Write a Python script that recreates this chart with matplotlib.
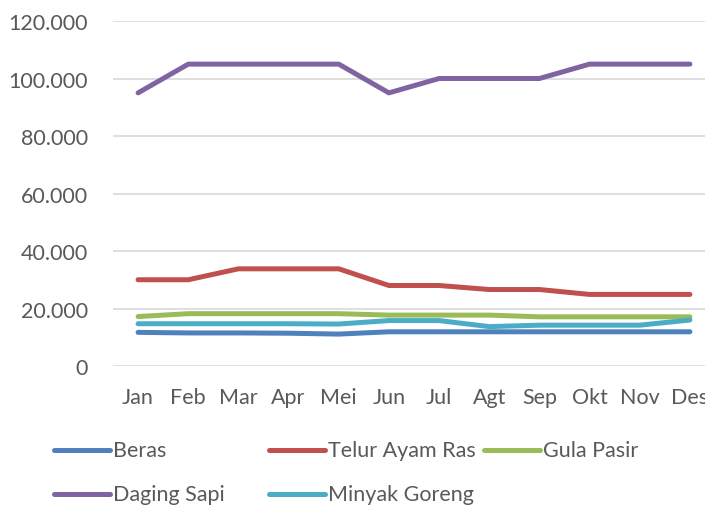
import matplotlib
matplotlib.use("Agg")
import matplotlib.pyplot as plt
from matplotlib.lines import Line2D
from matplotlib.ticker import FuncFormatter

plt.rcParams["font.family"] = ["Lato", "DejaVu Sans"]

months = ["Jan", "Feb", "Mar", "Apr", "Mei", "Jun", "Jul", "Agt", "Sep", "Okt", "Nov", "Des"]
beras = [11700, 11500, 11500, 11400, 11100, 11900, 11900, 11900, 11900, 11900, 11900, 11900]
telur = [30000, 30000, 33800, 33800, 33800, 28000, 28000, 26600, 26600, 24900, 24900, 24900]
gula = [17200, 18200, 18200, 18200, 18200, 17700, 17700, 17700, 17100, 17100, 17100, 17100]
daging = [95000, 105000, 105000, 105000, 105000, 95000, 100000, 100000, 100000, 105000, 105000, 105000]
minyak = [14700, 14700, 14700, 14700, 14600, 15800, 15800, 13700, 14200, 14200, 14200, 16000]

series = [("Beras", beras, "#4F81BD"),
          ("Telur Ayam Ras", telur, "#C0504D"),
          ("Gula Pasir", gula, "#9BBB59"),
          ("Daging Sapi", daging, "#8064A2"),
          ("Minyak Goreng", minyak, "#4BACC6")]

GRID = "#D9D9D9"; TXT = "#595959"
W, H = 705, 506
FS = 15.5

fig = plt.figure(figsize=(W / 100, H / 100), dpi=100)
ax = fig.add_axes([113 / W, 1 - 367 / H, (715 - 113) / W, (367 - 22) / H])

x = list(range(len(months)))
for name, vals, col in series:
    ax.plot(x, vals, color=col, lw=3.6, solid_capstyle="round", solid_joinstyle="round")

ax.set_xlim(-0.5, len(months) - 0.5)
ax.set_ylim(0, 120000)
ax.set_yticks(range(0, 120001, 20000))
ax.yaxis.set_major_formatter(FuncFormatter(lambda v, p: f"{v:,.0f}".replace(",", ".")))
ax.set_xticks(x)
ax.set_xticklabels(months)
ax.grid(axis="y", color=GRID, lw=1.2)
ax.set_axisbelow(True)
for s in ax.spines.values():
    s.set_visible(False)
ax.tick_params(length=0, labelsize=FS, colors=TXT)
ax.tick_params(axis="y", pad=18)
ax.tick_params(axis="x", pad=15)

# legend, laid out like Excel's fixed-width columns
pos = [(54, 451), (269, 451), (484, 451), (54, 495), (269, 495)]
for (name, vals, col), (px, py) in zip(series, pos):
    yf = 1 - py / H
    fig.add_artist(Line2D([px / W, (px + 56) / W], [yf, yf], color=col, lw=3.6,
                          solid_capstyle="round", transform=fig.transFigure))
    fig.text((px + 59) / W, yf, name, ha="left", va="center", fontsize=FS, color=TXT)

fig.savefig("out.png", dpi=100)
